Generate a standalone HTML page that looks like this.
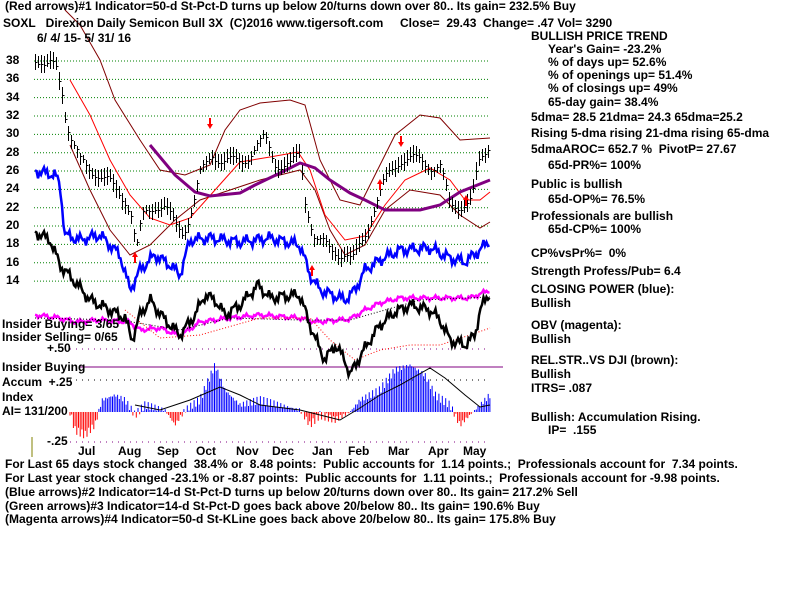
<!DOCTYPE html>
<html><head><meta charset="utf-8"><style>
body{margin:0;background:#fff;width:800px;height:600px;overflow:hidden;position:relative;font-family:"Liberation Sans",sans-serif;font-weight:bold;font-size:12px;color:#000}
.t{position:absolute;white-space:nowrap;line-height:13px}
svg{position:absolute;left:0;top:0}
</style></head><body>
<svg id="s" width="800" height="600" xmlns="http://www.w3.org/2000/svg"></svg>
<div class="t" style="left:5px;top:0px">(Red arrows)#1 Indicator=50-d St-Pct-D turns up below 20/turns down over 80.. Its gain= 232.5% Buy</div>
<div class="t" style="left:3px;top:17px">SOXL&nbsp;&nbsp; Direxion Daily Semicon Bull 3X&nbsp; (C)2016 www.tigersoft.com&nbsp;&nbsp;&nbsp;&nbsp; Close=&nbsp; 29.43&nbsp; Change= .47 Vol= 3290</div>
<div class="t" style="left:37px;top:32px">6/ 4/ 15- 5/ 31/ 16</div>
<div id="yl"></div>
<div class="t" style="left:531px;top:30px">BULLISH PRICE TREND</div>
<div class="t" style="left:548px;top:43px">Year's Gain= -23.2%</div>
<div class="t" style="left:548px;top:56px">% of days up= 52.6%</div>
<div class="t" style="left:548px;top:69px">% of openings up= 51.4%</div>
<div class="t" style="left:548px;top:82px">% of closings up= 49%</div>
<div class="t" style="left:548px;top:96px">65-day gain= 38.4%</div>
<div class="t" style="left:531px;top:111px">5dma= 28.5 21dma= 24.3 65dma=25.2</div>
<div class="t" style="left:531px;top:127px">Rising 5-dma rising 21-dma rising 65-dma</div>
<div class="t" style="left:531px;top:143px">5dmaAROC= 652.7 %&nbsp; PivotP= 27.67</div>
<div class="t" style="left:548px;top:159px">65d-PR%= 100%</div>
<div class="t" style="left:531px;top:178px">Public is bullish</div>
<div class="t" style="left:548px;top:193px">65d-OP%= 76.5%</div>
<div class="t" style="left:531px;top:210px">Professionals are bullish</div>
<div class="t" style="left:548px;top:223px">65d-CP%= 100%</div>
<div class="t" style="left:531px;top:247px">CP%vsPr%=&nbsp; 0%</div>
<div class="t" style="left:531px;top:265px">Strength Profess/Pub= 6.4</div>
<div class="t" style="left:531px;top:283px">CLOSING POWER (blue):</div>
<div class="t" style="left:531px;top:297px">Bullish</div>
<div class="t" style="left:531px;top:319px">OBV (magenta):</div>
<div class="t" style="left:531px;top:333px">Bullish</div>
<div class="t" style="left:531px;top:354px">REL.STR..VS DJI (brown):</div>
<div class="t" style="left:531px;top:368px">Bullish</div>
<div class="t" style="left:531px;top:382px">ITRS= .087</div>
<div class="t" style="left:531px;top:411px">Bullish: Accumulation Rising.</div>
<div class="t" style="left:548px;top:424px">IP=&nbsp; .155</div>
<div class="t" style="left:2px;top:318px">Insider Buying= 3/65</div>
<div class="t" style="left:2px;top:331px">Insider Selling= 0/65</div>
<div class="t" style="left:47px;top:342px">+.50</div>
<div class="t" style="left:2px;top:361px">Insider Buying</div>
<div class="t" style="left:2px;top:376px">Accum&nbsp; +.25</div>
<div class="t" style="left:2px;top:391px">Index</div>
<div class="t" style="left:2px;top:405px">AI= 131/200</div>
<div class="t" style="left:47px;top:435px">-.25</div>
<div class="t" style="left:5px;top:458px">For Last 65 days stock changed&nbsp; 38.4% or&nbsp; 8.48 points:&nbsp; Public accounts for&nbsp; 1.14 points.;&nbsp; Professionals account for&nbsp; 7.34 points.</div>
<div class="t" style="left:5px;top:472px">For Last year stock changed -23.1% or -8.87 points:&nbsp; Public accounts for&nbsp; 1.11 points.;&nbsp; Professionals account for -9.98 points.</div>
<div class="t" style="left:5px;top:486px">(Blue arrows)#2 Indicator=14-d St-Pct-D turns up below 20/turns down over 80.. Its gain= 217.2% Sell</div>
<div class="t" style="left:5px;top:500px">(Green arrows)#3 Indicator=14-d St-Pct-D goes back above 20/below 80.. Its gain= 190.6% Buy</div>
<div class="t" style="left:5px;top:513px">(Magenta arrows)#4 Indicator=50-d St-KLine goes back above 20/below 80.. Its gain= 175.8% Buy</div>
<script>
var s=document.getElementById('s'),h='';
function Y(v){return 61+(38-v)*9.17;}
var yl='';
for(var v=38;v>=14;v-=2){var y=Y(v);h+='<line x1="34" y1="'+y+'" x2="490" y2="'+y+'" stroke="#008000" stroke-dasharray="1,2"/>';
yl+='<div class="t" style="left:6px;top:'+(y-7)+'px">'+v+'</div>';}
document.getElementById('yl').innerHTML=yl;
[[349,'#800080'],[380,'#000'],[442,'#800080']].forEach(function(a){h+='<line x1="70" y1="'+a[0]+'" x2="490" y2="'+a[0]+'" stroke="'+a[1]+'" stroke-dasharray="1,5"/>';});
h+='<line x1="80" y1="367" x2="503" y2="367" stroke="#800080"/>';
h+='<line x1="32" y1="437" x2="32" y2="457" stroke="#808000"/>';
function interp(pts,x){for(var i=0;i<pts.length-1;i++){if(x>=pts[i][0]&&x<=pts[i+1][0]){var t=(x-pts[i][0])/(pts[i+1][0]-pts[i][0]);return pts[i][1]+t*(pts[i+1][1]-pts[i][1]);}}return pts[pts.length-1][1];}
function pl(pts,c,w,d){h+='<polyline fill="none" stroke="'+c+'" stroke-width="'+w+'" '+(d?'stroke-dasharray="'+d+'"':'')+' points="'+pts.map(function(p){return p.join(',')}).join(' ')+'"/>';}
function noisy(pts,a,x0,x1){var o=[];for(var x=x0;x<=x1;x+=1.5){o.push([x,(interp(pts,x)+Math.sin(x*1.7)*a+Math.sin(x*0.53)*a*1.3).toFixed(1)]);}return o;}
pl([[65,10],[80,25],[100,60],[115,100],[140,140],[160,170],[185,175],[210,165],[225,130],[240,110],[260,103],[290,100],[305,105],[320,160],[340,200],[360,205],[375,175],[395,135],[420,115],[440,118],[460,140],[490,138]],'#800000',1);
pl([[70,145],[90,190],[110,230],[130,255],[150,245],[175,220],[200,200],[230,190],[260,180],[300,170],[315,190],[330,230],[345,255],[365,245],[385,210],[410,190],[440,195],[460,215],[480,228],[490,222]],'#800000',1);
pl([[70,80],[90,115],[110,160],[130,195],[150,218],[170,225],[190,218],[215,190],[240,162],[270,157],[298,152],[310,170],[325,215],[345,240],[365,236],[385,205],[405,180],[430,168],[450,180],[465,200],[480,200],[490,192]],'#ff0000',1);
pl([[150,145],[175,175],[195,192],[210,196],[240,193],[255,185],[280,173],[300,163],[315,168],[330,180],[350,193],[365,200],[385,210],[420,210],[440,205],[460,192],[490,180]],'#800080',3);
var pr=[[35,38.5],[45,37],[55,37.8],[62,35],[66,31.5],[72,29],[80,27],[95,26],[110,24.5],[125,23],[132,21],[136,17],[142,21],[155,22.5],[165,22],[175,20],[183,19.5],[192,22],[200,25.5],[212,28],[225,27],[240,27],[255,28.5],[265,29.5],[275,27],[290,26.5],[300,28],[305,23],[315,18.5],[330,17.5],[345,17],[352,16],[362,18.5],[372,21.5],[385,25],[400,27.5],[420,27],[440,26.5],[450,22],[462,22.5],[472,23],[478,26.5],[485,28],[490,29.4]];
var bars='';
for(var x=35;x<=490;x+=3){var c=interp(pr,x)+Math.sin(x*2.3)*0.7;var up=3+Math.abs(Math.sin(x*1.1))*7,dn=3+Math.abs(Math.cos(x*0.7))*6;var y=Math.round(Y(c))+0.5;var xx=x+0.5;bars+='<line x1="'+xx+'" y1="'+Math.round(y-up)+'" x2="'+xx+'" y2="'+Math.round(y+dn)+'"/><line x1="'+xx+'" y1="'+y+'" x2="'+(xx+2)+'" y2="'+y+'"/>';}
h+='<g stroke="#000" stroke-width="1" shape-rendering="crispEdges">'+bars+'</g>';
pl(noisy([[35,171],[55,175],[60,185],[65,235],[80,240],[100,235],[120,255],[130,290],[140,270],[155,255],[170,265],[180,275],[190,240],[210,238],[240,242],[270,238],[300,245],[310,275],[320,290],[345,300],[355,290],[365,270],[380,260],[400,250],[430,248],[450,258],[465,262],[480,250],[490,240]],3,35,490),'#0000ff',2.5);
pl(noisy([[35,315],[60,318],[75,322],[100,320],[130,322],[140,330],[160,328],[180,336],[200,322],[230,318],[260,315],[300,318],[315,322],[340,320],[350,319],[365,310],[380,303],[400,298],[450,298],[470,298],[490,290]],1.2,35,490),'#ff00ff',2.5);
pl([[35,318],[120,320],[180,330],[230,318],[300,320],[350,320],[420,300],[490,297]],'#000',1,'1,2');
pl([[125,310],[160,338],[200,335],[260,318],[310,318],[330,340],[355,360],[380,350],[410,345],[440,345],[470,335],[490,328]],'#ff0000',1,'1,2');
pl(noisy([[35,232],[50,240],[60,265],[75,282],[90,300],[110,310],[125,318],[132,340],[140,315],[150,300],[165,320],[180,335],[195,315],[205,295],[215,300],[225,315],[240,305],[258,285],[270,298],[285,296],[300,295],[308,320],[318,345],[325,360],[335,345],[345,360],[350,375],[358,360],[370,340],[380,325],[395,312],[410,305],[430,310],[440,320],[450,340],[465,345],[475,335],[480,310],[490,292]],3,35,490),'#000',2.5);
var ac=[[70,412],[75,430],[85,435],[95,425],[102,400],[115,395],[125,400],[135,415],[145,405],[165,410],[175,425],[185,410],[200,400],[215,365],[225,390],[240,405],[260,400],[280,405],[300,410],[310,425],[320,415],[335,420],[350,412],[360,400],[380,390],[395,370],[410,365],[425,375],[435,395],[450,405],[460,425],[470,415],[480,405],[490,395]];
for(var x=70;x<=490;x+=1.7){var v=interp(ac,x)+Math.sin(x*1.9)*4;h+='<line x1="'+x+'" y1="412" x2="'+x+'" y2="'+v+'" stroke="'+(v<412?'#0000ff':'#ff0000')+'"/>';}
pl([[135,405],[160,410],[190,400],[220,387],[240,395],[260,405],[300,410],[340,420],[360,408],[380,395],[400,385],[430,368],[445,378],[465,395],[480,407],[490,405]],'#000',1);
[[210,118,1],[401,136,1],[135,255,0],[312,268,0],[466,198,0],[380,182,0]].forEach(function(a){var x=a[0],y=a[1];if(a[2])h+='<line x1="'+x+'" y1="'+y+'" x2="'+x+'" y2="'+(y+8)+'" stroke="red" stroke-width="2"/><polygon points="'+(x-3)+','+(y+6)+' '+(x+3)+','+(y+6)+' '+x+','+(y+11)+'" fill="red"/>';else h+='<line x1="'+x+'" y1="'+y+'" x2="'+x+'" y2="'+(y+8)+'" stroke="red" stroke-width="2"/><polygon points="'+(x-3)+','+(y+2)+' '+(x+3)+','+(y+2)+' '+x+','+(y-3)+'" fill="red"/>';});
[['Jul',78],['Aug',118],['Sep',157],['Oct',196],['Nov',236],['Dec',272],['Jan',312],['Feb',348],['Mar',388],['Apr',428],['May',463]].forEach(function(m){h+='<text x="'+m[1]+'" y="455" font-family="Liberation Sans" font-weight="bold" font-size="12">'+m[0]+'</text>';});
s.innerHTML=h;
</script>
</body></html>
